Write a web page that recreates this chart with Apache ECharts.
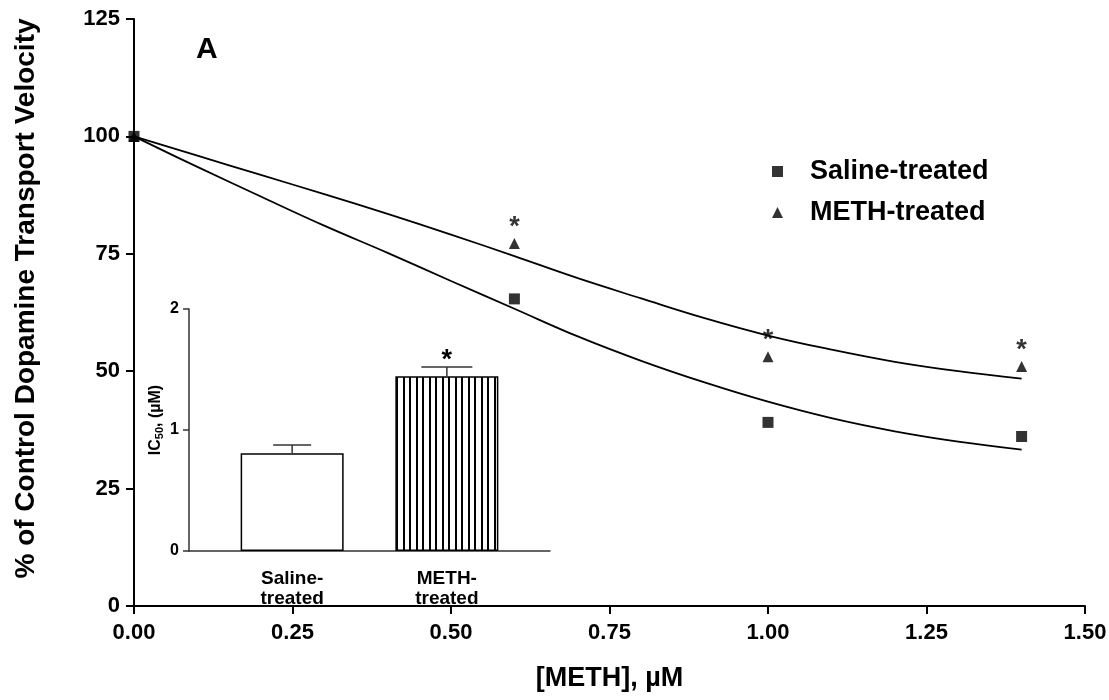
<!DOCTYPE html>
<html>
<head>
<meta charset="utf-8">
<script src="https://cdn.jsdelivr.net/npm/echarts@6/dist/echarts.min.js"></script>
<style>
html,body{margin:0;padding:0;background:#fff;}
#chart{width:1109px;height:700px;}
</style>
</head>
<body>
<div id="chart"></div>
<script>
// ---- Main panel data ----
const doseX = [0, 0.6, 1.0, 1.4];
const salineY = [100, 65.4, 39.1, 36.1];
const methY = [100, 77.2, 53.1, 51.0];
const methSig = [false, true, true, true];
const fitX = [0, 0.1, 0.2, 0.3, 0.4, 0.5, 0.6, 0.7, 0.8, 0.9, 1.0, 1.1, 1.2, 1.3, 1.4];
const salineFit = [100, 93.5, 87.2, 81.0, 75.2, 69.2, 63.3, 57.4, 52.2, 47.6, 43.5, 40.0, 37.2, 35.0, 33.3];
const methFit = [100, 95.9, 91.8, 87.7, 83.5, 79.1, 74.5, 69.8, 65.5, 61.3, 57.6, 54.6, 52.0, 50.0, 48.4];
const xTicks = [0, 0.25, 0.5, 0.75, 1.0, 1.25, 1.5];
const yTicks = [0, 25, 50, 75, 100, 125];

// ---- Inset data ----
const insetCats = ['Saline-\ntreated', 'METH-\ntreated'];
const ic50 = [0.807, 1.445];
const ic50Err = [0.07, 0.075];
const ic50Sig = [false, true];

const FONT = "'Liberation Sans', Arial, sans-serif";

// inset category slots (two real categories placed at 2/7 and 5/7 of the axis)
const slotIdx = [2, 5];
const insetSlots = ['', '', '', '', '', '', '', ''];
slotIdx.forEach((s, i) => { insetSlots[s] = insetCats[i]; });
const barData = insetSlots.map(() => null);
slotIdx.forEach((s, i) => { barData[s] = ic50[i]; });

// stripe pattern for METH bar
const pc = document.createElement('canvas');
pc.width = 13; pc.height = 4;
const pctx = pc.getContext('2d');
pctx.fillStyle = '#fff'; pctx.fillRect(0, 0, 13, 4);
pctx.fillStyle = '#000'; pctx.fillRect(0, 0, 2, 4); pctx.fillRect(6, 0, 2, 4);

const capWidths = [38, 51];

const chart = echarts.init(document.getElementById('chart'));
const option = {
  animation: false,
  backgroundColor: '#fff',
  textStyle: { fontFamily: FONT },
  title: {
    text: 'A', left: 191, top: 30,
    textStyle: { fontSize: 30, fontWeight: 'bold', color: '#000', fontFamily: FONT }
  },
  legend: {
    orient: 'vertical', left: 772, top: 158, padding: 0,
    itemWidth: 11, itemHeight: 11, itemGap: 14,
    data: ['Saline-treated', 'METH-treated'],
    textStyle: { fontSize: 27, fontWeight: 'bold', color: '#000', lineHeight: 26, padding: [0, 0, 0, 22], fontFamily: FONT }
  },
  grid: [
    { left: 134, right: 24, top: 19, bottom: 94, outerBoundsMode: 'none' },
    { left: 189, width: 361, top: 309, bottom: 149, outerBoundsMode: 'none' }
  ],
  xAxis: [
    {
      type: 'value', gridIndex: 0, min: 0, max: 1.5, interval: 0.25,
      name: '[METH], µM', nameLocation: 'middle', nameGap: 59,
      nameTextStyle: { fontSize: 27, fontWeight: 'bold', color: '#000', fontFamily: FONT },
      axisLine: { show: true, onZero: false, lineStyle: { color: '#000', width: 2 } },
      axisTick: { show: true, length: 8, lineStyle: { color: '#000', width: 2 } },
      axisLabel: { fontSize: 22, fontWeight: 'bold', color: '#000', margin: 16, formatter: v => v.toFixed(2), fontFamily: FONT },
      splitLine: { show: false }
    },
    {
      type: 'category', gridIndex: 1, data: insetSlots, boundaryGap: false,
      axisLine: { show: true, lineStyle: { color: '#333', width: 1.5 } },
      axisTick: { show: false },
      axisLabel: { interval: 0, fontSize: 19, fontWeight: 'bold', color: '#000', lineHeight: 20, margin: 18, fontFamily: FONT },
      splitLine: { show: false }
    }
  ],
  yAxis: [
    {
      type: 'value', gridIndex: 0, min: 0, max: 125, interval: 25,
      name: '% of Control Dopamine Transport Velocity', nameLocation: 'middle', nameGap: 94,
      nameTextStyle: { fontSize: 28, fontWeight: 'bold', color: '#000', fontFamily: FONT, padding: [0, 0, 0, 28] },
      axisLine: { show: true, onZero: false, lineStyle: { color: '#000', width: 2 } },
      axisTick: { show: true, length: 8, lineStyle: { color: '#000', width: 2 } },
      axisLabel: { fontSize: 22, fontWeight: 'bold', color: '#000', margin: 14, fontFamily: FONT },
      splitLine: { show: false }
    },
    {
      type: 'value', gridIndex: 1, min: 0, max: 2, interval: 1,
      name: '{a|IC}{s|50}{a|, (µM)}', nameLocation: 'middle', nameGap: 24,
      nameTextStyle: {
        padding: [0, 0, 0, 20],
        rich: {
          a: { fontSize: 16, fontWeight: 'bold', color: '#000', fontFamily: FONT },
          s: { fontSize: 11, fontWeight: 'bold', color: '#000', verticalAlign: 'bottom', padding: [8, 0, 0, 0], fontFamily: FONT }
        }
      },
      axisLine: { show: true, lineStyle: { color: '#333', width: 1.5 } },
      axisTick: { show: true, length: 6, lineStyle: { color: '#333', width: 1.5 } },
      axisLabel: { fontSize: 16, fontWeight: 'bold', color: '#000', margin: 10, fontFamily: FONT },
      splitLine: { show: false }
    }
  ],
  series: [
    {
      name: 'Saline fit', type: 'line', xAxisIndex: 0, yAxisIndex: 0,
      data: fitX.map((x, i) => [x, salineFit[i]]), smooth: 0.4, showSymbol: false,
      lineStyle: { color: '#000', width: 1.8 }, z: 2
    },
    {
      name: 'METH fit', type: 'line', xAxisIndex: 0, yAxisIndex: 0,
      data: fitX.map((x, i) => [x, methFit[i]]), smooth: 0.4, showSymbol: false,
      lineStyle: { color: '#000', width: 1.8 }, z: 2
    },
    {
      name: 'METH-treated', type: 'scatter', xAxisIndex: 0, yAxisIndex: 0,
      symbol: 'triangle', symbolSize: 11, itemStyle: { color: '#000' },
      data: doseX.map((x, i) => [x, methY[i]]),
      label: {
        show: true, position: 'top', distance: -3,
        formatter: p => methSig[p.dataIndex] ? '*' : '',
        fontSize: 27, fontWeight: 'bold', color: '#000', fontFamily: FONT
      },
      z: 3
    },
    {
      name: 'Saline-treated', type: 'scatter', xAxisIndex: 0, yAxisIndex: 0,
      symbol: 'rect', symbolSize: 11, itemStyle: { color: '#000' },
      data: doseX.map((x, i) => [x, salineY[i]]),
      z: 4
    },
    {
      name: 'IC50', type: 'bar', xAxisIndex: 1, yAxisIndex: 1,
      barWidth: 103,
      data: barData.map((v, k) => {
        if (v === null) return null;
        const i = slotIdx.indexOf(k);
        return {
          value: v,
          itemStyle: i === 1
            ? { color: { image: pc, repeat: 'repeat' }, borderColor: '#000', borderWidth: 1.5 }
            : { color: '#fff', borderColor: '#000', borderWidth: 1.5 }
        };
      }),
      z: 2
    },
    {
      name: 'IC50 err', type: 'custom', xAxisIndex: 1, yAxisIndex: 1,
      data: slotIdx.map((s, i) => [s, ic50[i], ic50Err[i], ic50Sig[i] ? 1 : 0, i]),
      renderItem: (params, api) => {
        const x = api.value(0), v = api.value(1), e = api.value(2);
        const sig = api.value(3), i = api.value(4);
        const p0 = api.coord([x, v]);
        const p1 = api.coord([x, v + e]);
        const hw = capWidths[i] / 2;
        const children = [
          { type: 'line', shape: { x1: p0[0], y1: p0[1], x2: p1[0], y2: p1[1] }, style: { stroke: '#333', lineWidth: 1.5 } },
          { type: 'line', shape: { x1: p1[0] - hw, y1: p1[1], x2: p1[0] + hw, y2: p1[1] }, style: { stroke: '#333', lineWidth: 1.5 } }
        ];
        if (sig) {
          children.push({
            type: 'text',
            style: { text: '*', x: p1[0], y: p1[1] + 7, align: 'center', verticalAlign: 'bottom', fontSize: 27, fontWeight: 'bold', fill: '#000', fontFamily: FONT }
          });
        }
        return { type: 'group', children };
      },
      z: 3
    }
  ]
};
chart.setOption(option);
</script>
</body>
</html>
